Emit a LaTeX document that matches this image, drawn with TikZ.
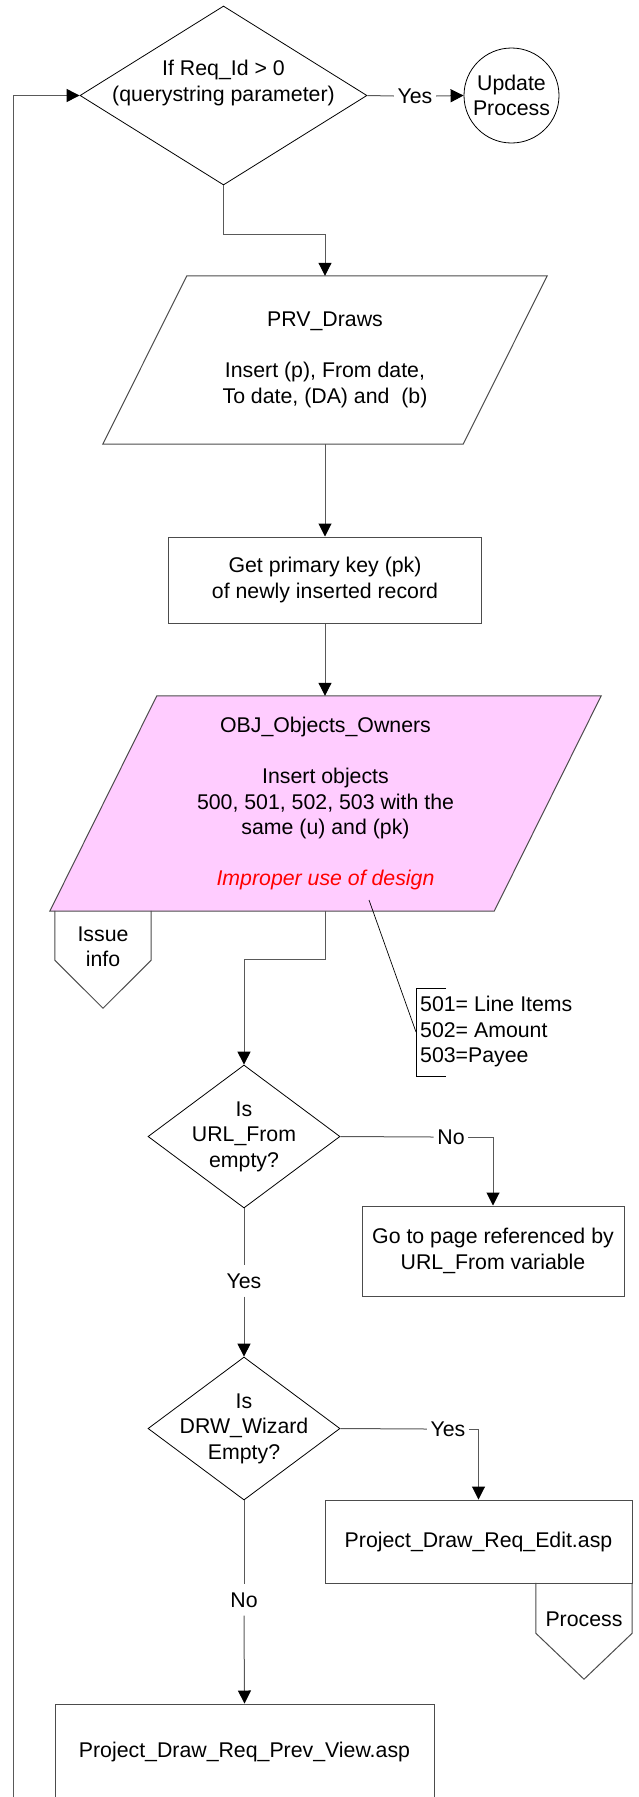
\documentclass[tikz,border=0pt]{standalone}
\usepackage{fontspec}
\setmainfont{Liberation Sans}
\usetikzlibrary{shapes.geometric,arrows.meta,calc}
\definecolor{pinkfill}{RGB}{255,204,255}
\begin{document}
\begin{tikzpicture}[x=1pt,y=-1pt,
  font=\fontsize{21.3}{25.5}\selectfont,
  conn/.style={draw=black!65, line width=1pt},
  arr/.style={conn, -{Triangle[length=13pt,width=13pt,color=black]}},
  box/.style={draw=black!70, line width=1pt, rectangle, inner sep=0pt, align=center},
  shapeline/.style={draw=black!70, line width=1pt},
  dia/.style={draw=black, line width=0.8pt, diamond, inner sep=0pt},
  txt/.style={inner sep=0pt, align=center},
  hlbl/.style={inner xsep=3.5pt, inner ysep=2pt},
  vlbl/.style={inner xsep=2pt, inner ysep=8pt},
  bbox/.style={rectangle, draw=none, inner sep=0pt}
]
\useasboundingbox (0,0) rectangle (639,1797);

% Decision 1
\node[dia, minimum width=287pt, minimum height=179pt] (d1) at (223.5,95.5) {};
\node[txt] (d1t) at (223.5,83) {If Req\_Id > 0\\(querystring parameter)};
\node[draw=black, line width=0.8pt, circle, minimum size=95pt, inner sep=0pt, align=center] (up) at (511.5,95.5) {Update\\Process};
\node[hlbl] (y1) at (415,96) {Yes};
\draw[conn] (d1.east) -- (y1.west);
\draw[arr] (y1.east) -- (up.west);

% Parallelogram 1
\node[bbox, minimum width=444pt, minimum height=168pt] (p1) at (325,360) {};
\draw[shapeline] (p1.south west) -- ([xshift=84pt]p1.north west) -- (p1.north east) -- ([xshift=-84pt]p1.south east) -- cycle;
\node[txt] (p1t) at (325,360) {PRV\_Draws\\\mbox{}\\Insert (p), From date,\\To date, (DA) and\ \ (b)};
\draw[arr] (d1.south) -- ++(0,49) -| (p1.north);

% Primary key box
\node[box, minimum width=313pt, minimum height=86pt] (pk) at (325,580) {Get primary key (pk)\\of newly inserted record};
\draw[arr] (p1.south) -- (pk.north);

% Parallelogram 2
\node[bbox, minimum width=551pt, minimum height=215pt] (p2) at (325.5,803.5) {};
\draw[shapeline, fill=pinkfill] (p2.south west) -- ([xshift=107pt]p2.north west) -- (p2.north east) -- ([xshift=-107pt]p2.south east) -- cycle;
\node[txt] (p2t) at (325.5,803.5) {OBJ\_Objects\_Owners\\\mbox{}\\Insert objects\\500, 501, 502, 503 with the\\same (u) and (pk)\\\mbox{}\\\textcolor{red}{\itshape Improper use of design}};
\draw[arr] (pk.south) -- (pk.south |- p2.north);

% Issue info off-page connector
\node[bbox, minimum width=96pt, minimum height=97pt] (iss) at (103,959.5) {};
\draw[shapeline] (iss.north west) -- ([yshift=48pt]iss.south west) -- (iss.south) -- ([yshift=48pt]iss.south east) -- (iss.north east);
\node[txt] (isst) at (103,947) {Issue\\info};

% Annotation
\coordinate (ann0) at (369,900);
\coordinate (brk) at (416,1032);
\node[anchor=west, inner sep=0pt, align=left] (ann) at (420,1031.5) {501= Line Items\\502= Amount\\503=Payee};
\draw[black, line width=0.7pt] (ann0) -- (brk);
\draw[black, line width=0.7pt] ([xshift=30pt,yshift=44pt]brk) -- ([yshift=44pt]brk) -- ([yshift=-44pt]brk) -- ([xshift=30pt,yshift=-44pt]brk);

% Decision 2
\node[dia, minimum width=192pt, minimum height=143pt] (d2) at (244,1136.5) {};
\node[txt] (d2t) at (244,1136.5) {Is\\URL\_From\\empty?};
\draw[arr] (p2.south) -- ++(0,48) -| (d2.north);

\node[box, minimum width=262pt, minimum height=90pt] (goto) at (493,1251) {Go to page referenced by\\URL\_From variable};
\node[hlbl] (n1) at (451,1137) {No};
\draw[conn] (d2.east) -- (n1.west);
\draw[arr] (n1.east) -| (goto.north);

% Decision 3
\node[dia, minimum width=192pt, minimum height=143pt] (d3) at (244,1428.5) {};
\node[txt] (d3t) at (244,1428.5) {Is\\DRW\_Wizard\\Empty?};
\node[vlbl] (y2) at (244,1281) {Yes};
\draw[conn] (d2.south) -- (y2.north);
\draw[arr] (y2.south) -- (d3.north);

\node[box, minimum width=307pt, minimum height=83pt] (edit) at (478.5,1541.5) {Project\_Draw\_Req\_Edit.asp};
\node[hlbl] (y3) at (448,1429) {Yes};
\draw[conn] (d3.east) -- (y3.west);
\draw[arr] (y3.east) -| (edit.north);

% Process off-page connector
\node[bbox, minimum width=96pt, minimum height=96pt] (proc) at (584,1631) {};
\draw[shapeline] (proc.north west) -- ([yshift=46pt]proc.south west) -- (proc.south) -- ([yshift=46pt]proc.south east) -- (proc.north east);
\node[txt] (proct) at (584,1619) {Process};

% Final box
\node[box, minimum width=379pt, minimum height=96pt] (prev) at (244.5,1752) {Project\_Draw\_Req\_Prev\_View.asp};
\node[vlbl] (n2) at (244,1600) {No};
\draw[conn] (d3.south) -- (n2.north);
\draw[arr] (n2.south) -- (prev.north);

% Loop back
\coordinate (lp) at (13,1805);
\draw[arr] (lp) |- (d1.west);
\end{tikzpicture}
\end{document}
